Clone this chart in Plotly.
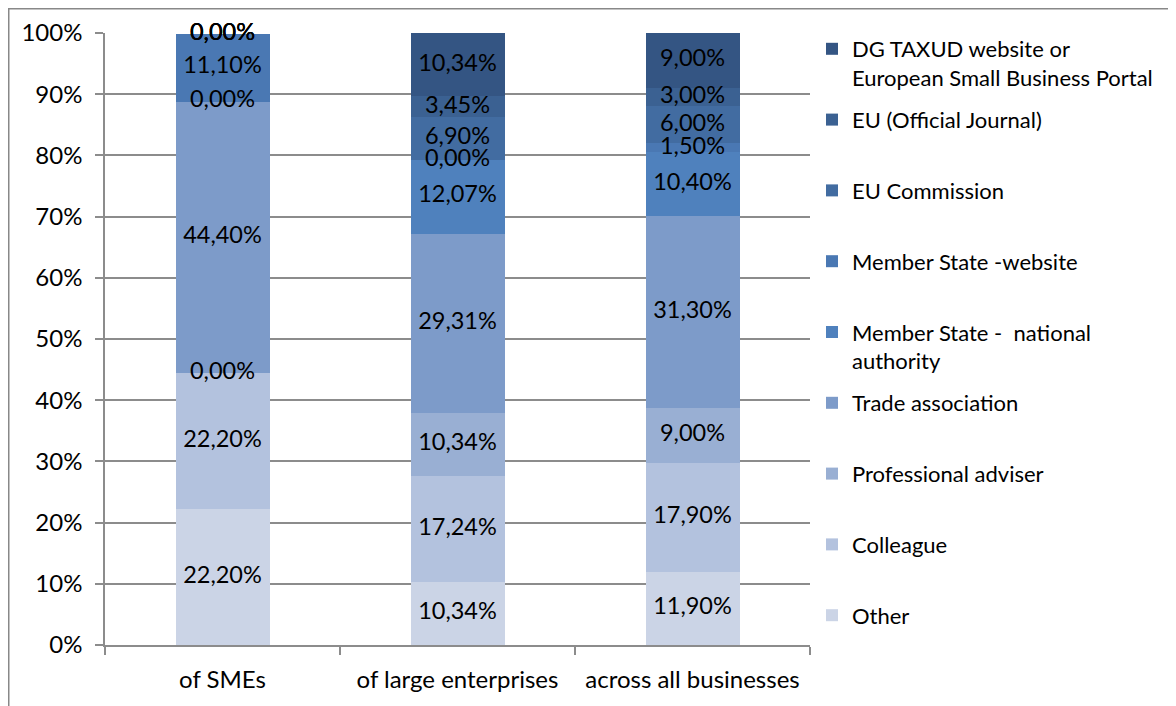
import plotly.graph_objects as go
import numpy as np

categories = ["of SMEs", "of large enterprises", "across all businesses"]

series_names = [
    "Other",
    "Colleague",
    "Professional adviser",
    "Trade association",
    "Member State -  national<br>authority",
    "Member State -website",
    "EU Commission",
    "EU (Official Journal)",
    "DG TAXUD website or<br>European Small Business Portal",
]
other = [22.20, 10.34, 11.90]
colleague = [22.20, 17.24, 17.90]
prof_adviser = [0.00, 10.34, 9.00]
trade_assoc = [44.40, 29.31, 31.30]
ms_national = [0.00, 12.07, 10.40]
ms_website = [11.10, 0.00, 1.50]
eu_commission = [0.00, 6.90, 6.00]
eu_oj = [0.00, 3.45, 3.00]
dg_taxud = [0.00, 10.34, 9.00]

series_values = [other, colleague, prof_adviser, trade_assoc, ms_national,
                 ms_website, eu_commission, eu_oj, dg_taxud]
colors = ["#cbd4e6", "#b3c2de", "#99afd3", "#7d9bc9", "#4f81bd",
          "#4a78b3", "#426ca1", "#3b6192", "#345583"]
y_ticks = [0, 10, 20, 30, 40, 50, 60, 70, 80, 90, 100]

FONT = "Lato"
FS = 24
fig = go.Figure()

n = len(series_names)
for i, (name, vals, col) in enumerate(zip(series_names, series_values, colors)):
    label = name if "<br>" in name else name + "<br> "
    fig.add_trace(go.Bar(
        x=categories, y=vals, name=label, marker_color=col,
        marker_line_width=0, legendgroup=name, legendrank=n - i,
    ))

# data labels at segment midpoints
cum = np.zeros(len(categories))
for vals in series_values:
    v = np.array(vals)
    mid = cum + v / 2
    fig.add_trace(go.Scatter(
        x=categories, y=mid, mode="text",
        text=[("%.2f%%" % x).replace(".", ",") for x in v],
        textfont=dict(family=FONT, size=FS - 0.5, color="black"),
        showlegend=False, hoverinfo="skip", cliponaxis=False,
    ))
    cum = cum + v

# page offset of 8px (browser body margin) is subtracted from target pixels
L, R, T, B = 97, 374, 25, 69
W, H = 1176, 706
pw, ph = W - L - R, H - T - B

def px_x(X):
    return (X - L) / pw

def px_y(Y):
    return (H - B - Y) / ph

fig.add_shape(type="rect", xref="paper", yref="paper",
              x0=px_x(0.75), x1=px_x(1200), y0=px_y(0.75), y1=px_y(730),
              line=dict(color="#888888", width=1.5), fillcolor="rgba(0,0,0,0)", layer="below")

fig.update_layout(
    width=W, height=H,
    margin=dict(l=L, r=R, t=T, b=B, autoexpand=False),
    barmode="stack", bargap=0.6,
    plot_bgcolor="white", paper_bgcolor="white",
    separators=",.",
    font=dict(family=FONT, size=FS, color="black"),
    showlegend=True,
    legend=dict(
        x=px_x(804), y=px_y(20), xanchor="left", yanchor="top",
        traceorder="grouped", tracegroupgap=10.6, maxheight=690,
        valign="top", font=dict(family=FONT, size=22),
        itemwidth=30, bgcolor="rgba(0,0,0,0)",
    ),
)
fig.update_yaxes(
    range=[0, 100], tickvals=y_ticks, ticktext=[f"{t}%" for t in y_ticks],
    showgrid=True, gridcolor="#8c8c8c", gridwidth=1.5,
    showline=True, linecolor="#8c8c8c", linewidth=1.5,
    ticks="outside", ticklen=8, tickcolor="#8c8c8c", tickwidth=1.5,
    ticklabelstandoff=8,
    zeroline=False, tickfont=dict(family=FONT, size=FS), automargin=False,
)
fig.update_xaxes(
    showline=True, linecolor="#8c8c8c", linewidth=1.5,
    ticks="outside", tickson="boundaries", ticklen=8, tickcolor="#8c8c8c", tickwidth=1.5,
    ticklabelstandoff=12,
    tickfont=dict(family=FONT, size=FS), automargin=False,
)

fig.write_html("out.html")
